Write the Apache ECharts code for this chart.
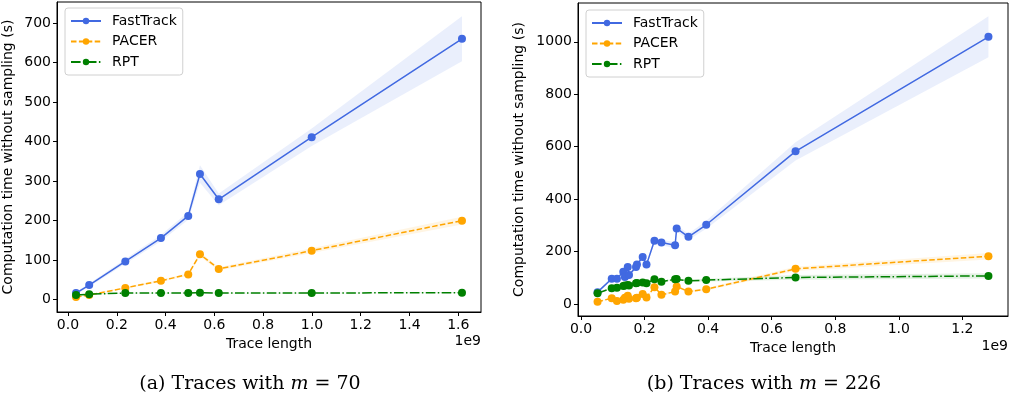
<!DOCTYPE html>
<html>
<head>
<meta charset="utf-8">
<script src="https://cdn.jsdelivr.net/npm/echarts@6/dist/echarts.min.js"></script>
<style>
  html, body { margin: 0; padding: 0; background: #fff; }
  #chart { width: 1017px; height: 405px; }
</style>
</head>
<body>
<div id="chart"></div>
<script>
var chart = echarts.init(document.getElementById('chart'));

// data (trace length in units of 1e9, time in seconds)
const names = ['FastTrack', 'PACER', 'RPT'];
const colors = ['#4169e1', '#ffa500', '#008000'];
const bandColors = ['rgba(65,105,225,0.11)', 'rgba(255,165,0,0.11)', 'rgba(0,128,0,0.11)'];

// (a) m = 70
const lenA = [0.033, 0.087, 0.235, 0.381, 0.493, 0.541, 0.618, 0.999, 1.615];
const fastA = [17, 37, 97, 156, 212, 318, 254, 411, 660];
const pacerA = [7, 12, 30, 48, 64, 115, 78, 124, 200];
const rptA = [12, 14, 17, 17, 17, 18, 17, 17, 18];
const fastSpreadA = [3, 4, 6, 8, 10, 22, 15, 22, 57];
const pacerSpreadA = [1, 1, 2, 3, 3, 6, 4, 6, 10];
const rptSpreadA = [1, 1, 1, 1, 1, 1, 1, 1, 1];

// (b) m = 226
const lenB = [0.052, 0.0966, 0.113, 0.133, 0.138, 0.147, 0.151, 0.173, 0.176, 0.194,
  0.206, 0.231, 0.253, 0.296, 0.301, 0.338, 0.394, 0.675, 1.282];
const fastB = [45, 96, 96, 123, 103, 141, 110, 141, 150, 179, 150, 241, 234, 224, 288, 256, 302, 582, 1019];
const pacerB = [8, 22, 11, 16, 24, 31, 20, 22, 24, 38, 25, 64, 35, 47, 67, 47, 56, 134, 182];
const rptB = [41, 60, 62, 68, 70, 72, 70, 79, 80, 82, 79, 94, 85, 94, 95, 88, 91, 101, 107];
const fastSpreadB = [4, 5, 5, 6, 6, 7, 6, 7, 7, 8, 8, 10, 10, 12, 12, 12, 15, 35, 78];
const pacerSpreadB = [1, 2, 2, 2, 2, 2, 2, 2, 2, 3, 3, 4, 4, 4, 4, 4, 5, 8, 12];
const rptSpreadB = [2, 2, 2, 2, 2, 2, 2, 2, 2, 3, 3, 3, 3, 3, 3, 4, 5, 9, 10];

const xTicksA = [0, 0.2, 0.4, 0.6, 0.8, 1.0, 1.2, 1.4, 1.6];
const yTicksA = [0, 100, 200, 300, 400, 500, 600, 700];
const xTicksB = [0, 0.2, 0.4, 0.6, 0.8, 1.0, 1.2];
const yTicksB = [0, 200, 400, 600, 800, 1000];

const font = 'DejaVu Sans';
const fs = 14;
const lineTypes = ['solid', [5.5, 2.4], [9.6, 2.4, 1.5, 2.4]];

function pairs(xs, ys) {
  return xs.map(function (x, i) { return [x, ys[i]]; });
}

function lineSeries(k, idx, xs, ys) {
  return {
    name: names[k],
    type: 'line',
    xAxisIndex: idx,
    yAxisIndex: idx,
    data: pairs(xs, ys),
    symbol: 'circle',
    symbolSize: 8,
    showSymbol: true,
    z: 3 + k,
    itemStyle: { color: colors[k] },
    lineStyle: { color: colors[k], width: 1.5, type: lineTypes[k] },
    animation: false
  };
}

function bandSeries(k, idx, xs, ys, sp) {
  return {
    type: 'custom',
    xAxisIndex: idx,
    yAxisIndex: idx,
    silent: true,
    z: 1,
    data: [[xs[0], ys[0]]],
    renderItem: function (params, api) {
      var pts = [];
      for (var i = 0; i < xs.length; i++) pts.push(api.coord([xs[i], ys[i] + sp[i]]));
      for (var j = xs.length - 1; j >= 0; j--) pts.push(api.coord([xs[j], ys[j] - sp[j]]));
      return { type: 'polygon', shape: { points: pts }, style: { fill: bandColors[k] } };
    },
    animation: false
  };
}

function xAxis(idx, min, max, ticks) {
  return {
    type: 'value', gridIndex: idx, min: min, max: max,
    name: 'Trace length', nameLocation: 'middle', nameGap: 22,
    nameTextStyle: { fontFamily: font, fontSize: fs, color: '#000' },
    axisLine: { show: true, onZero: false, lineStyle: { color: '#000', width: 1 } },
    axisTick: { show: true, length: 4, lineStyle: { color: '#000' }, customValues: ticks },
    axisLabel: {
      fontFamily: font, fontSize: fs, color: '#000', margin: 6, customValues: ticks,
      formatter: function (v) { return v.toFixed(1); }
    },
    splitLine: { show: false }
  };
}

function yAxis(idx, min, max, ticks, gap) {
  return {
    type: 'value', gridIndex: idx, min: min, max: max,
    name: 'Computation time without sampling (s)', nameLocation: 'middle', nameGap: gap,
    nameTextStyle: { fontFamily: font, fontSize: fs, color: '#000' },
    axisLine: { show: true, onZero: false, lineStyle: { color: '#000', width: 1 } },
    axisTick: { show: true, length: 4, lineStyle: { color: '#000' }, customValues: ticks },
    axisLabel: {
      fontFamily: font, fontSize: fs, color: '#000', margin: 6, customValues: ticks,
      formatter: function (v) { return String(v); }
    },
    splitLine: { show: false }
  };
}

function legend(left, top) {
  return {
    data: names,
    orient: 'vertical',
    left: left,
    top: top,
    itemWidth: 30,
    itemHeight: 8,
    itemGap: 6.5,
    padding: [6, 6, 6, 5],
    borderColor: '#d0d0d0',
    borderWidth: 1,
    borderRadius: 3,
    backgroundColor: '#fff',
    textStyle: { fontFamily: font, fontSize: fs, color: '#000', padding: [0, 0, 0, 6] }
  };
}

const option = {
  backgroundColor: '#fff',
  animation: false,
  grid: [
    { left: 57, right: 536, top: 2, bottom: 93, show: true, borderColor: '#000', borderWidth: 1 },
    { left: 578, right: 9, top: 3, bottom: 89, show: true, borderColor: '#000', borderWidth: 1 }
  ],
  xAxis: [xAxis(0, -0.045, 1.693, xTicksA), xAxis(1, -0.0095, 1.3435, xTicksB)],
  yAxis: [yAxis(0, -31, 753, yTicksA, 42), yAxis(1, -46, 1148, yTicksB, 52)],
  legend: [legend(65, 8), legend(586, 10)],
  series: [
    bandSeries(0, 0, lenA, fastA, fastSpreadA),
    bandSeries(1, 0, lenA, pacerA, pacerSpreadA),
    bandSeries(2, 0, lenA, rptA, rptSpreadA),
    lineSeries(0, 0, lenA, fastA),
    lineSeries(1, 0, lenA, pacerA),
    lineSeries(2, 0, lenA, rptA),
    bandSeries(0, 1, lenB, fastB, fastSpreadB),
    bandSeries(1, 1, lenB, pacerB, pacerSpreadB),
    bandSeries(2, 1, lenB, rptB, rptSpreadB),
    lineSeries(0, 1, lenB, fastB),
    lineSeries(1, 1, lenB, pacerB),
    lineSeries(2, 1, lenB, rptB)
  ],
  graphic: [
    { type: 'text', x: 481, y: 334, style: { text: '1e9', font: '14px "DejaVu Sans"', fill: '#000', align: 'right' } },
    { type: 'text', x: 1008, y: 339, style: { text: '1e9', font: '14px "DejaVu Sans"', fill: '#000', align: 'right' } },
    {
      type: 'text', x: 250, y: 384,
      style: {
        text: '(a) Traces with {i|m} = 70', align: 'center', verticalAlign: 'middle',
        font: '19px "DejaVu Serif"', fill: '#000',
        rich: { i: { fontStyle: 'italic', fontFamily: 'DejaVu Serif', fontSize: 19 } }
      }
    },
    {
      type: 'text', x: 764, y: 384,
      style: {
        text: '(b) Traces with {i|m} = 226', align: 'center', verticalAlign: 'middle',
        font: '19px "DejaVu Serif"', fill: '#000',
        rich: { i: { fontStyle: 'italic', fontFamily: 'DejaVu Serif', fontSize: 19 } }
      }
    }
  ]
};

chart.setOption(option);
</script>
</body>
</html>
